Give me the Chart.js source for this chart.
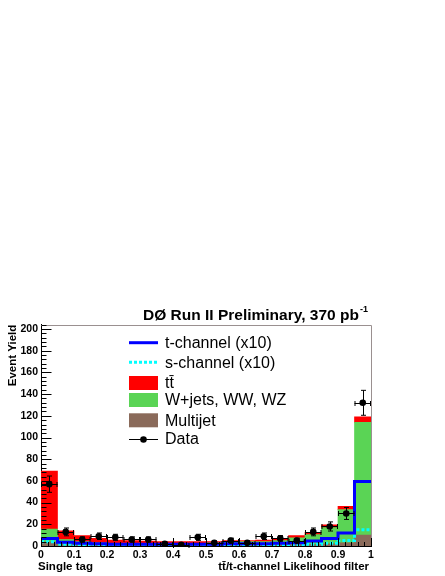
<!DOCTYPE html>
<html><head><meta charset="utf-8">
<script src="https://cdn.jsdelivr.net/npm/chart.js@4.4.1/dist/chart.umd.min.js"></script>
<style>html,body{margin:0;padding:0;background:#fff}canvas{display:block}</style>
</head><body>
<canvas id="c" width="445" height="576"></canvas>
<script>
// ---- data ----
const binEdges = [0,0.05,0.1,0.15,0.2,0.25,0.3,0.35,0.4,0.45,0.5,0.55,0.6,0.65,0.7,0.75,0.8,0.85,0.9,0.95,1];
const multijet = [3.5,2,1.5,1,1,1,1,0.8,0.8,0.8,0.8,1,1,1,1,1.5,1.5,2,3,10];
const wjets    = [12,4,2.5,2,1.5,1.5,1.5,1.7,1.7,1.7,2.2,2.5,3,3,4,6,9,15,30.5,104];
const ttbar    = [53.5,8,5.5,4,3,2.5,2,1.5,1.5,1.5,1,1.5,1,1.5,1.5,2,2,2.5,3,5];
const tChannel = [7,3.5,2.5,2,1.5,1.5,1.5,1.5,1.5,1.5,1.5,2,2,2,2.5,3,4.5,7,12,59.5];
const sChannel = [4,1.5,1,0.8,0.5,0.5,0.5,0.5,0.5,0.5,0.5,0.5,0.5,0.5,0.7,1,1.5,2.5,5,15];
const dataCounts = [57,13,6,9,8,6,6,2,1,8,3,5,3,9,7,5,13,18,30,132];
const dataErrors = [7.5,3.6,2.4,3,2.8,2.4,2.4,1.4,1,2.8,1.7,2.2,1.7,3,2.6,2.2,3.6,4.2,5.5,11.5];
const xTickValues = [0,0.1,0.2,0.3,0.4,0.5,0.6,0.7,0.8,0.9,1];
const yTickValues = [0,20,40,60,80,100,120,140,160,180,200];
const legendLabels = ['t-channel (x10)','s-channel (x10)','tt\u0304','W+jets, WW, WZ','Multijet','Data'];

const FONT = '"Liberation Sans", Arial, Helvetica, sans-serif';
const centers = binEdges.slice(0,-1).map((e,i)=>(e+binEdges[i+1])/2);
const barPts = arr => arr.map((v,i)=>({x:centers[i], y:v}));
const stepPts = arr => binEdges.map((e,i)=>({x:e, y:arr[Math.min(i,arr.length-1)]}));

const COL = {red:'#ff0000', green:'#5ad455', brown:'#8a6a5a', blue:'#0000ff', cyan:'#00ffff'};

const decor = {
  id:'decor',
  afterDatasetsDraw(chart){
    const {ctx, chartArea:a, scales:{x,y}} = chart;
    ctx.save();
    // error bars
    ctx.strokeStyle='#000'; ctx.lineWidth=1;
    dataCounts.forEach((v,i)=>{
      const px = Math.round(x.getPixelForValue(centers[i]))+0.5;
      const pl = x.getPixelForValue(binEdges[i]), pr = x.getPixelForValue(binEdges[i+1]);
      const py = Math.round(y.getPixelForValue(v))+0.5;
      const pt = y.getPixelForValue(v+dataErrors[i]);
      const pb = y.getPixelForValue(Math.max(0,v-dataErrors[i]));
      ctx.beginPath();
      ctx.moveTo(pl,py); ctx.lineTo(pr,py);
      ctx.moveTo(pl+0.5,py-2.5); ctx.lineTo(pl+0.5,py+2.5);
      ctx.moveTo(pr-0.5,py-2.5); ctx.lineTo(pr-0.5,py+2.5);
      ctx.moveTo(px,pt); ctx.lineTo(px,pb);
      ctx.moveTo(px-2.5,pt); ctx.lineTo(px+2.5,pt);
      ctx.moveTo(px-2.5,pb); ctx.lineTo(px+2.5,pb);
      ctx.stroke();
    });
    // frame top/right
    ctx.strokeStyle='#9a9090';
    ctx.beginPath();
    ctx.moveTo(a.left, Math.round(a.top)+0.5); ctx.lineTo(a.right+0.5, Math.round(a.top)+0.5);
    ctx.lineTo(a.right+0.5, a.bottom);
    ctx.stroke();
    // inward ticks
    ctx.strokeStyle='#000';
    ctx.beginPath();
    const lx = Math.round(a.left)+0.5;
    for(let v=0; v<=y.max; v+=4){
      const py = Math.round(y.getPixelForValue(v))+0.5;
      const len = (v%20===0)?10:5;
      ctx.moveTo(lx,py); ctx.lineTo(lx+len,py);
    }
    const by = Math.round(a.bottom);
    for(let k=0;k<=50;k++){
      const px = Math.round(x.getPixelForValue(k/50))+0.5;
      const len = (k%5===0)?8:4;
      ctx.moveTo(px,by); ctx.lineTo(px,by-len);
    }
    ctx.stroke();
    ctx.restore();
  },
  afterDraw(chart){
    const {ctx} = chart;
    ctx.save();
    ctx.fillStyle='#000';
    // title
    ctx.textBaseline='alphabetic'; ctx.textAlign='left';
    ctx.font='bold 15.5px '+FONT;
    const main='D\u00d8 Run II Preliminary, 370 pb';
    ctx.fillText(main,143,320);
    const w=ctx.measureText(main).width;
    ctx.font='bold 9px '+FONT;
    ctx.fillText('-1',143+w+1,312);
    // x axis texts
    ctx.font='bold 11.5px '+FONT;
    ctx.fillText('Single tag',38,570);
    ctx.textAlign='right';
    ctx.fillText('t\u0074\u0304/t-channel Likelihood filter',369,570);
    // legend
    const sx0=129, sx1=158, tx=165;
    const rows=[342.7,362.3,383,400,420.3,438.7];
    ctx.textAlign='left'; ctx.textBaseline='middle';
    ctx.font='16px '+FONT;
    // t-channel
    ctx.strokeStyle=COL.blue; ctx.lineWidth=3;
    ctx.beginPath(); ctx.moveTo(sx0,rows[0]); ctx.lineTo(sx1,rows[0]); ctx.stroke();
    // s-channel
    ctx.strokeStyle=COL.cyan; ctx.setLineDash([3,2]);
    ctx.beginPath(); ctx.moveTo(sx0,rows[1]); ctx.lineTo(sx1,rows[1]); ctx.stroke();
    ctx.setLineDash([]);
    // boxes
    [[COL.red,rows[2]],[COL.green,rows[3]],[COL.brown,rows[4]]].forEach(([c,yy])=>{
      ctx.fillStyle=c; ctx.fillRect(sx0,yy-7,sx1-sx0,14);
    });
    // data
    ctx.strokeStyle='#000'; ctx.lineWidth=1;
    ctx.beginPath(); ctx.moveTo(sx0,Math.round(rows[5])+0.5); ctx.lineTo(sx1,Math.round(rows[5])+0.5); ctx.stroke();
    ctx.fillStyle='#000';
    ctx.beginPath(); ctx.arc((sx0+sx1)/2,Math.round(rows[5])+0.5,3.3,0,Math.PI*2); ctx.fill();
    legendLabels.forEach((t,i)=>{ ctx.fillText(t,tx,rows[i]+1); });
    ctx.restore();
  }
};

new Chart(document.getElementById('c'),{
  data:{
    datasets:[
      {type:'scatter', label:'Data', data:barPts(dataCounts), stack:'d',
       pointRadius:3.3, pointBackgroundColor:'#000', pointBorderWidth:0, showLine:false},
      {type:'line', label:'t-channel (x10)', data:stepPts(tChannel), stack:'t', stepped:'before',
       borderColor:COL.blue, borderWidth:3, pointRadius:0, fill:false},
      {type:'line', label:'s-channel (x10)', data:stepPts(sChannel), stack:'s', stepped:'before',
       borderColor:COL.cyan, borderWidth:3, borderDash:[3,2], pointRadius:0, fill:false},
      {type:'bar', label:'Multijet', data:barPts(multijet), stack:'bkg', backgroundColor:COL.brown,
       barPercentage:1, categoryPercentage:1, borderWidth:0},
      {type:'bar', label:'W+jets, WW, WZ', data:barPts(wjets), stack:'bkg', backgroundColor:COL.green,
       barPercentage:1, categoryPercentage:1, borderWidth:0},
      {type:'bar', label:'tt\u0304', data:barPts(ttbar), stack:'bkg', backgroundColor:COL.red,
       barPercentage:1, categoryPercentage:1, borderWidth:0}
    ]
  },
  options:{
    responsive:false, animation:false, events:[],
    layout:{padding:{left:0,right:74,top:324.7,bottom:0}},
    plugins:{legend:{display:false}, title:{display:false}, tooltip:{enabled:false}},
    scales:{
      x:{type:'linear', min:0, max:1, offset:false,
         grid:{display:false, drawTicks:false},
         border:{display:true,color:'#000',width:1},
         afterBuildTicks:s=>{s.ticks=xTickValues.map(v=>({value:v}));},
         ticks:{padding:3, color:'#000', font:{family:FONT,size:10.5,weight:'bold'}, maxRotation:0,
                callback:v=>String(v)},
         afterFit:s=>{s.height=30;}},
      y:{type:'linear', min:0, max:204, stacked:true,
         grid:{display:false, drawTicks:false},
         border:{display:true,color:'#000',width:1},
         afterBuildTicks:s=>{s.ticks=yTickValues.map(v=>({value:v}));},
         ticks:{padding:3, color:'#000', font:{family:FONT,size:10.5,weight:'bold'}},
         title:{display:true, text:'Event Yield', align:'end', color:'#000',
                font:{family:FONT,size:11.5,weight:'bold'}, padding:{top:6,bottom:0}},
         afterFit:s=>{s.width=41;}}
    }
  },
  plugins:[decor]
});
</script>
</body></html>
